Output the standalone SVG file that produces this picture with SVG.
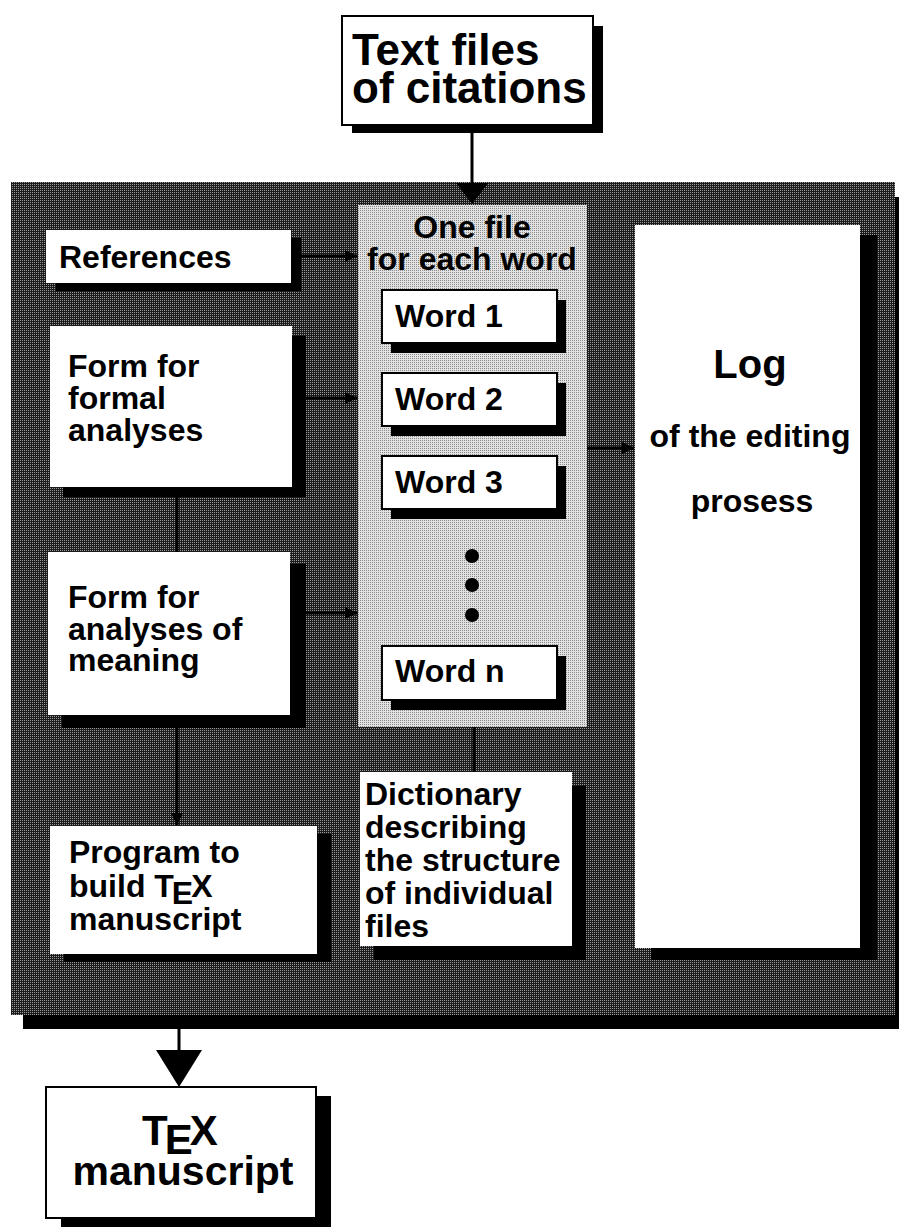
<svg xmlns="http://www.w3.org/2000/svg" width="899" height="1228" viewBox="0 0 899 1228">
  <defs>
    <pattern id="dark" width="2" height="2" patternUnits="userSpaceOnUse">
      <rect width="2" height="2" fill="#1c1c1c"/>
      <rect width="1" height="1" fill="#9a9a9a"/>
    </pattern>
    <pattern id="light" width="2" height="2" patternUnits="userSpaceOnUse">
      <rect width="2" height="2" fill="#e2e2e2"/>
      <rect width="1" height="1" fill="#8a8a8a"/>
    </pattern>
    <marker id="ah" viewBox="0 0 10 10" refX="10" refY="5" markerWidth="4" markerHeight="4" orient="auto" markerUnits="strokeWidth">
      <path d="M0,0 L10,5 L0,10 z" fill="#000"/>
    </marker>
  </defs>
  <style>
    .box { fill: #fff; stroke: #000; stroke-width: 2; }
    .plain { fill: #fff; }
    .shadow { fill: #000; }
    .t { font-family: "Liberation Sans", Arial, sans-serif; font-weight: bold; fill: #000; }
    .s32 { font-size: 32px; }
    .con { stroke: #000; stroke-width: 3; fill: none; }
  </style>

  <!-- big container -->
  <g id="container">
    <rect class="shadow" x="23" y="197" width="890" height="832"/>
    <rect x="11" y="182" width="884" height="833" fill="url(#dark)"/>
  </g>

  <g id="connectors">
    <line class="con" x1="472" y1="125" x2="472" y2="184"/>
    <polygon points="456,183 488,183 472,204" fill="#000"/>
    <line class="con" x1="291" y1="256" x2="357" y2="256" marker-end="url(#ah)"/>
    <line class="con" x1="306" y1="398" x2="357" y2="398" marker-end="url(#ah)"/>
    <line class="con" x1="306" y1="613" x2="357" y2="613" marker-end="url(#ah)"/>
    <line class="con" x1="587" y1="448" x2="634" y2="448" marker-end="url(#ah)"/>
    <line class="con" x1="177" y1="487" x2="177" y2="552"/>
    <line class="con" x1="177" y1="728" x2="177" y2="825" marker-end="url(#ah)"/>
    <line class="con" x1="474" y1="727" x2="474" y2="772"/>
    <line class="con" x1="179" y1="1029" x2="179" y2="1052"/>
    <polygon points="156,1050 202,1050 179,1087" fill="#000"/>
  </g>

  <g id="text-files">
    <rect class="shadow" x="352" y="26" width="251" height="107"/>
    <rect class="box" x="342" y="16" width="251" height="109"/>
    <text class="t" font-size="44" x="352" y="65">Text files<tspan x="352" dy="38">of citations</tspan></text>
  </g>

  <g id="references">
    <rect class="shadow" x="56" y="238" width="245" height="53"/>
    <rect class="plain" x="46" y="230" width="245" height="53"/>
    <text class="t s32" x="59" y="268">References</text>
  </g>

  <g id="form-formal">
    <rect class="shadow" x="63" y="336" width="243" height="161"/>
    <rect class="plain" x="50" y="326" width="242" height="161"/>
    <text class="t s32" x="68" y="377">Form for<tspan x="68" dy="32">formal</tspan><tspan x="68" dy="32">analyses</tspan></text>
  </g>

  <g id="form-meaning">
    <rect class="shadow" x="62" y="564" width="244" height="164"/>
    <rect class="plain" x="48" y="552" width="242" height="163"/>
    <text class="t s32" x="68" y="608">Form for<tspan x="68" dy="32">analyses of</tspan><tspan x="68" dy="31">meaning</tspan></text>
  </g>

  <g id="program">
    <rect class="shadow" x="64" y="834" width="267" height="128"/>
    <rect class="plain" x="50" y="826" width="267" height="128"/>
    <text class="t s32" x="69" y="863">Program to<tspan x="69" dy="34">build T</tspan><tspan dx="-2" dy="7">E</tspan><tspan dx="-2" dy="-7">X</tspan><tspan x="69" dy="33">manuscript</tspan></text>
  </g>

  <g id="word-files">
    <rect x="358" y="205" width="229" height="522" fill="url(#light)"/>
    <text class="t s32" x="472" y="238" text-anchor="middle">One file<tspan x="472" dy="32">for each word</tspan></text>
  </g>

  <g id="word1">
    <rect class="shadow" x="391" y="300" width="175" height="53"/>
    <rect class="box" x="382" y="290" width="175" height="53"/>
    <text class="t s32" x="395" y="327">Word 1</text>
  </g>
  <g id="word2">
    <rect class="shadow" x="391" y="383" width="175" height="53"/>
    <rect class="box" x="382" y="373" width="175" height="53"/>
    <text class="t s32" x="395" y="410">Word 2</text>
  </g>
  <g id="word3">
    <rect class="shadow" x="391" y="466" width="175" height="53"/>
    <rect class="box" x="382" y="456" width="175" height="53"/>
    <text class="t s32" x="395" y="493">Word 3</text>
  </g>
  <g id="ellipsis">
    <circle cx="472" cy="556" r="7" fill="#000"/>
    <circle cx="472" cy="585" r="7" fill="#000"/>
    <circle cx="472" cy="615" r="7" fill="#000"/>
  </g>
  <g id="wordn">
    <rect class="shadow" x="391" y="656" width="175" height="54"/>
    <rect class="box" x="382" y="646" width="175" height="54"/>
    <text class="t s32" x="395" y="682">Word n</text>
  </g>

  <g id="log">
    <rect class="shadow" x="651" y="235" width="226" height="725"/>
    <rect class="plain" x="635" y="225" width="225" height="723"/>
    <text class="t" font-size="40" x="750" y="378" text-anchor="middle">Log</text>
    <text class="t s32" x="750" y="447" text-anchor="middle">of the editing</text>
    <text class="t s32" x="752" y="512" text-anchor="middle">prosess</text>
  </g>

  <g id="dictionary">
    <rect class="shadow" x="374" y="786" width="212" height="174"/>
    <rect class="plain" x="360" y="772" width="212" height="174"/>
    <text class="t s32" x="365" y="805">Dictionary<tspan x="365" dy="33">describing</tspan><tspan x="365" dy="33">the structure</tspan><tspan x="365" dy="33">of individual</tspan><tspan x="365" dy="33">files</tspan></text>
  </g>

  <g id="tex-manuscript">
    <rect class="shadow" x="61" y="1096" width="270" height="131"/>
    <rect class="box" x="46" y="1087" width="270" height="131"/>
    <text class="t" font-size="42" x="142" y="1145">T<tspan dx="-3" dy="9">E</tspan><tspan dx="-3" dy="-9">X</tspan><tspan x="183" dy="40" font-size="41" text-anchor="middle">manuscript</tspan></text>
  </g>
</svg>
